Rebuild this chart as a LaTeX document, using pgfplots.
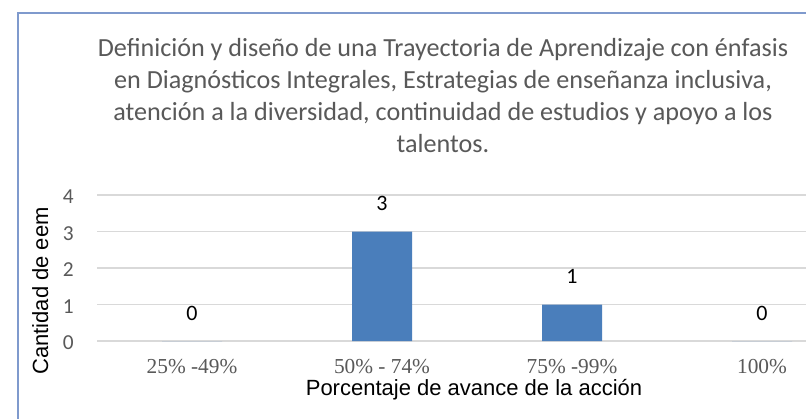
\documentclass[border=0pt]{standalone}
\usepackage{pgfplots}
\pgfplotsset{compat=1.18}
\usepackage{fontspec}
\setmainfont{Liberation Sans}
\newfontfamily\calibri{Carlito}
\newfontfamily\timesf{Liberation Serif}
\definecolor{barblue}{HTML}{4A7EBB}
\definecolor{gridc}{HTML}{D9D9D9}
\definecolor{tickc}{HTML}{595959}
\definecolor{titlec}{HTML}{595959}
\definecolor{framec}{HTML}{7F9ACD}
\begin{document}
\begin{tikzpicture}
\useasboundingbox (0,0) rectangle (604.5pt,313.5pt);
\fill[white] (0,0) rectangle (604.5pt,313.5pt);
\draw[color=framec, line width=1.2pt] (13.5pt,-2pt) -- (13.5pt,303.75pt) -- (620pt,303.75pt);
\begin{scope}[every node/.style={anchor=base, inner sep=0pt, text=titlec, font=\calibri\fontsize{19.6}{22}\selectfont}]
\node at (332.25pt,270.75pt) {Definición y diseño de una Trayectoria de Aprendizaje con énfasis};
\node at (332.25pt,246.75pt) {en Diagnósticos Integrales, Estrategias de enseñanza inclusiva,};
\node at (332.25pt,222.75pt) {atención a la diversidad, continuidad de estudios y apoyo a los};
\node at (332.25pt,198.75pt) {talentos.};
\end{scope}
\begin{axis}[
  at={(72.75pt,57.75pt)}, anchor=south west,
  scale only axis, width=570pt, height=109.5pt,
  ybar, bar width=45pt,
  xmin=-0.5, xmax=3.5, ymin=0, ymax=4,
  xtick={0,1,2,3},
  xticklabels={25\% -49\%, 50\% - 74\%, 75\% -99\%, 100\%},
  ytick={0,1,2,3,4},
  yticklabels={0,1,2,3,4},
  ymajorgrids,
  grid style={line width=1.1pt, color=gridc},
  axis line style={draw=none},
  major tick length=0pt,
  xticklabel style={anchor=base, yshift=-24.5pt, inner sep=0pt, text=tickc, font=\timesf\fontsize{16}{16}\selectfont},
  yticklabel style={anchor=east, inner sep=0pt, xshift=-17.25pt, yshift=-1.5pt, text=tickc, font=\calibri\fontsize{16}{16}\selectfont},
  point meta=explicit symbolic,
  nodes near coords={\pgfplotspointmeta},
  every node near coord/.append style={anchor=center, yshift=21pt, text=black, font=\calibri\fontsize{16.5}{16.5}\selectfont},
]
\addplot[fill=barblue, draw=none] coordinates {(0,0) [0] (1,3) [3] (2,1) [1] (3,0) [0]};
\end{axis}
\node[anchor=base, inner sep=0pt, font=\fontsize{16.5}{16.5}\selectfont] at (355.5pt,17.25pt) {Porcentaje de avance de la acción};
\node[anchor=base, rotate=90, inner sep=0pt, font=\fontsize{16.5}{16.5}\selectfont] at (36pt,95.25pt) {Cantidad de eem};
\end{tikzpicture}
\end{document}
